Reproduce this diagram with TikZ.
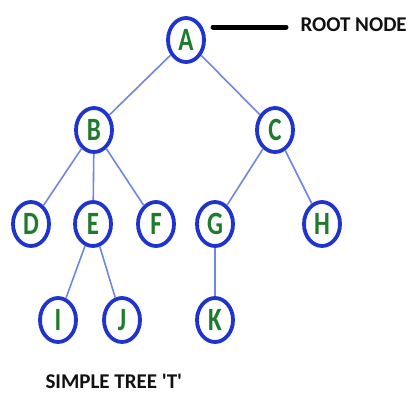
\documentclass[tikz,border=0pt]{standalone}
\usepackage{fontspec}
\setmainfont{Carlito}
\usetikzlibrary{shapes.geometric}
\definecolor{ringblue}{HTML}{1F33CF}
\definecolor{edgeblue}{HTML}{6F86E2}
\definecolor{leafgreen}{HTML}{1E7A2C}
\definecolor{dkink}{HTML}{111111}
\newcommand{\tall}[1]{\scalebox{1}[1.3]{#1}}
\begin{document}
\begin{tikzpicture}[
    x=1pt, y=-1pt,
    treenode/.style={ellipse, draw=ringblue, line width=3.8pt, fill=white,
      minimum width=36pt, minimum height=44pt, inner sep=0pt,
      text=leafgreen, font=\fontsize{25}{25}\selectfont\bfseries},
    edge/.style={edgeblue, line width=1.6pt},
    caption/.style={text=dkink, font=\fontsize{21}{21}\selectfont\bfseries},
  ]

  % Frame
  \useasboundingbox (0,0) rectangle (416,392);

  % === Nodes ===
  \node[treenode] (A) at (186,40)  {\tall{A}};
  \node[treenode] (B) at (94,130)  {\tall{B}};
  \node[treenode] (C) at (275,130) {\tall{C}};
  \node[treenode] (D) at (31,224)  {\tall{D}};
  \node[treenode] (E) at (93,224)  {\tall{E}};
  \node[treenode] (F) at (156,224) {\tall{F}};
  \node[treenode] (G) at (215,224) {\tall{G}};
  \node[treenode] (H) at (322,224) {\tall{H}};
  \node[treenode] (I) at (58,320)  {\tall{I}};
  \node[treenode] (J) at (122,320) {\tall{J}};
  \node[treenode] (K) at (215,320) {\tall{K}};

  % === Edges ===
  \draw[edge] (A) -- (B);
  \draw[edge] (A) -- (C);
  \draw[edge] (B) -- (D);
  \draw[edge] (B) -- (E);
  \draw[edge] (B) -- (F);
  \draw[edge] (C) -- (G);
  \draw[edge] (C) -- (H);
  \draw[edge] (E) -- (I);
  \draw[edge] (E) -- (J);
  \draw[edge] (G) -- (K);

  % Root marker
  \coordinate (rootL) at (213,27);
  \coordinate (rootR) at (286,27);
  \draw[black, line width=5pt, line cap=round] (rootL) -- (rootR);
  \node[caption, anchor=west] (rootlbl) at (297,25) {ROOT NODE};

  % Title
  \node[caption, anchor=west] (title) at (42,381)
    {SIMPLE TREE \textquotesingle T\textquotesingle};

\end{tikzpicture}
\end{document}
